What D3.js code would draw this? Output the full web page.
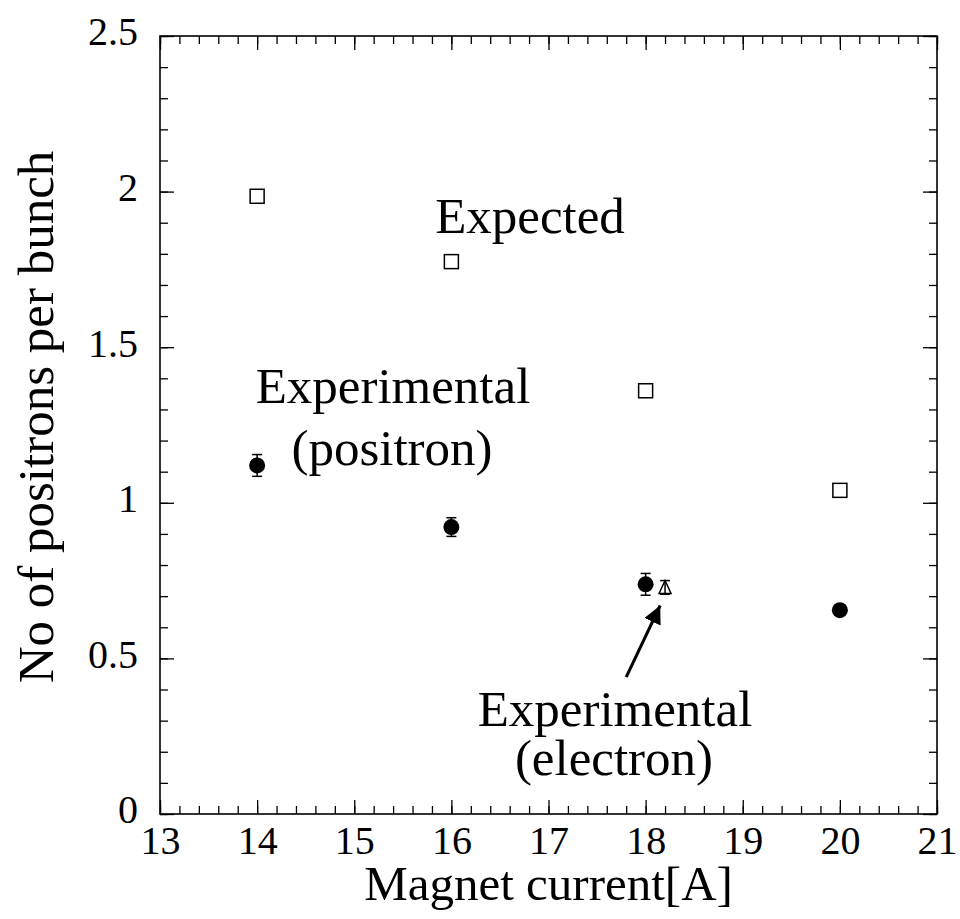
<!DOCTYPE html>
<html>
<head>
<meta charset="utf-8">
<script src="https://cdn.jsdelivr.net/npm/d3@7"></script>
<style>
  body { margin: 0; background: #fff; }
  svg { display: block; font-family: "Liberation Serif", "Times New Roman", serif; }
</style>
</head>
<body>
<div id="chart"></div>
<script>
// Data
var currents = [14, 16, 18, 20];
var expected = [1.985, 1.775, 1.36, 1.04];
var positron = [1.12, 0.922, 0.738, 0.655];
var positronErr = [0.035, 0.03, 0.035, 0.012];
var electronX = [18.2];
var electron = [0.728];
var electronErr = [0.022];

var xMajor = [13, 14, 15, 16, 17, 18, 19, 20, 21];
var yMajor = [0, 0.5, 1, 1.5, 2, 2.5];

// Dimensions
var margin = { top: 36, right: 23, bottom: 105, left: 160 },
  width = 960 - margin.left - margin.right,
  height = 919 - margin.top - margin.bottom;

var svg = d3.select("#chart")
  .append("svg")
  .attr("width", 960)
  .attr("height", 919);

var g = svg.append("g")
  .attr("transform", "translate(" + margin.left + "," + margin.top + ")");

var x = d3.scaleLinear().domain([13, 21]).range([0, width]);
var y = d3.scaleLinear().domain([0, 2.5]).range([height, 0]);

var xMinor = d3.range(13, 21.001, 0.2).map(function (d) { return +d.toFixed(1); });
var yMinor = d3.range(0, 2.5001, 0.1).map(function (d) { return +d.toFixed(1); });

function styleAxis(sel) {
  sel.select(".domain").remove();
  sel.selectAll("line").attr("stroke", "#000").attr("stroke-width", 1.3);
}

// Minor ticks (all four sides, inward)
g.append("g").attr("transform", "translate(0," + height + ")")
  .call(d3.axisBottom(x).tickValues(xMinor).tickSize(-8).tickFormat("")).call(styleAxis);
g.append("g")
  .call(d3.axisTop(x).tickValues(xMinor).tickSize(-8).tickFormat("")).call(styleAxis);
g.append("g")
  .call(d3.axisLeft(y).tickValues(yMinor).tickSize(-8).tickFormat("")).call(styleAxis);
g.append("g").attr("transform", "translate(" + width + ",0)")
  .call(d3.axisRight(y).tickValues(yMinor).tickSize(-8).tickFormat("")).call(styleAxis);

// Major ticks with labels
var xAxis = g.append("g").attr("transform", "translate(0," + height + ")")
  .call(d3.axisBottom(x).tickValues(xMajor).tickSize(-14).tickPadding(12).tickFormat(d3.format("d")))
  .call(styleAxis);
g.append("g")
  .call(d3.axisTop(x).tickValues(xMajor).tickSize(-14).tickFormat("")).call(styleAxis);
var yAxis = g.append("g")
  .call(d3.axisLeft(y).tickValues(yMajor).tickSize(-14).tickPadding(22).tickFormat(function (d) { return String(d); }))
  .call(styleAxis);
g.append("g").attr("transform", "translate(" + width + ",0)")
  .call(d3.axisRight(y).tickValues(yMajor).tickSize(-14).tickFormat("")).call(styleAxis);

xAxis.selectAll("text").style("font-size", "40px").style("fill", "#000");
yAxis.selectAll("text").style("font-size", "40px").style("fill", "#000").attr("dy", "0.22em");
g.selectAll(".tick text").style("font-family", "Liberation Serif, serif");

// Frame
g.append("rect")
  .attr("width", width).attr("height", height)
  .attr("fill", "none").attr("stroke", "#000").attr("stroke-width", 1.6);

// Axis titles
svg.append("text")
  .attr("x", margin.left + x(17)).attr("y", 900)
  .attr("text-anchor", "middle")
  .style("font-size", "49px")
  .text("Magnet current[A]");

svg.append("text")
  .attr("transform", "translate(53," + 417 + ") rotate(-90)")
  .attr("text-anchor", "middle")
  .style("font-size", "51px")
  .text("No of positrons per bunch");

// Error bars
function errBars(xs, ys, es) {
  xs.forEach(function (xv, i) {
    var cx = x(xv), top = y(ys[i] + es[i]), bot = y(ys[i] - es[i]);
    g.append("line").attr("x1", cx).attr("x2", cx).attr("y1", top).attr("y2", bot)
      .attr("stroke", "#000").attr("stroke-width", 1.5);
    [top, bot].forEach(function (yy) {
      g.append("line").attr("x1", cx - 5).attr("x2", cx + 5).attr("y1", yy).attr("y2", yy)
        .attr("stroke", "#000").attr("stroke-width", 1.5);
    });
  });
}
errBars(currents, positron, positronErr);
errBars(electronX, electron, electronErr);

// Expected: open squares
g.selectAll(".sq").data(currents).enter().append("rect")
  .attr("x", function (d) { return x(d) - 7; })
  .attr("y", function (d, i) { return y(expected[i]) - 7; })
  .attr("width", 14).attr("height", 14)
  .attr("fill", "#fff").attr("stroke", "#000").attr("stroke-width", 1.5);

// Positron: filled circles
g.selectAll(".pc").data(currents).enter().append("circle")
  .attr("cx", function (d) { return x(d); })
  .attr("cy", function (d, i) { return y(positron[i]); })
  .attr("r", 8).attr("fill", "#000");

// Electron: open triangle
g.selectAll(".tri").data(electronX).enter().append("path")
  .attr("transform", function (d, i) { return "translate(" + x(d) + "," + y(electron[i]) + ")"; })
  .attr("d", "M0,-7L6,6L-6,6Z")
  .attr("fill", "none").attr("stroke", "#000").attr("stroke-width", 1.5);

// Annotations
function label(lines, cx, y0, dy) {
  var t = g.append("text").attr("text-anchor", "middle").style("font-size", "51px");
  lines.forEach(function (s, i) {
    t.append("tspan").attr("x", cx).attr("y", y0 + i * dy).text(s);
  });
}
label(["Expected"], 530 - margin.left, 233 - margin.top, 0);
label(["Experimental"], 393 - margin.left, 403 - margin.top, 0);
label(["(positron)"], 392 - margin.left, 465 - margin.top, 0);
label(["Experimental"], 615 - margin.left, 726 - margin.top, 0);
label(["(electron)"], 614 - margin.left, 775 - margin.top, 0);

// Arrow to electron point
svg.append("defs").append("marker")
  .attr("id", "head").attr("viewBox", "0 0 10 10")
  .attr("refX", 10).attr("refY", 5)
  .attr("markerWidth", 6).attr("markerHeight", 6)
  .attr("markerUnits", "strokeWidth")
  .attr("orient", "auto")
  .append("path").attr("d", "M0,0L10,5L0,10Z").attr("fill", "#000");

g.append("line")
  .attr("x1", x(17.8)).attr("y1", y(0.44))
  .attr("x2", x(18.15)).attr("y2", y(0.67))
  .attr("stroke", "#000").attr("stroke-width", 3)
  .attr("marker-end", "url(#head)");
</script>
</body>
</html>
